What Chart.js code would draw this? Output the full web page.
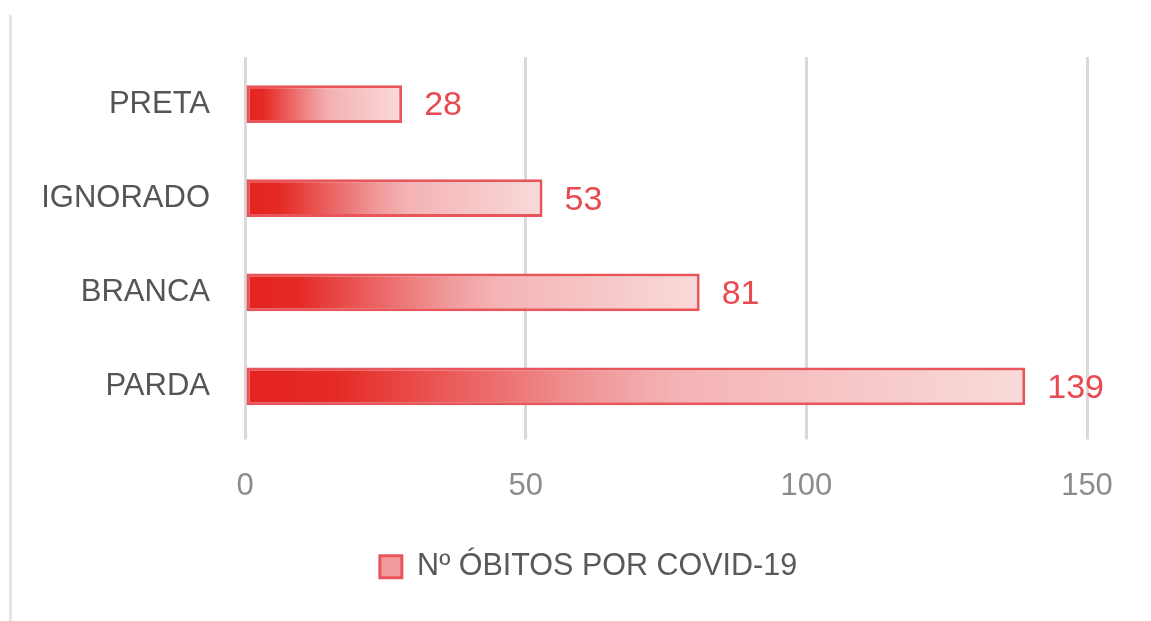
<!DOCTYPE html>
<html>
<head>
<meta charset="utf-8">
<script src="https://cdn.jsdelivr.net/npm/chart.js@4/dist/chart.umd.min.js"></script>
<style>
  html, body { margin: 0; padding: 0; background: #fff; }
  #wrap { position: relative; width: 1151px; height: 621px; }
  #frame { position: absolute; left: 9px; top: 15px; width: 3px; height: 606px; background: #e6e6e6; }
</style>
</head>
<body>
<div id="wrap">
  <div id="frame"></div>
  <canvas id="chart" width="1151" height="621"></canvas>
</div>
<script>
var categories = ["PRETA", "IGNORADO", "BRANCA", "PARDA"];
var obitos = [28, 53, 81, 139];
var seriesName = "Nº ÓBITOS POR COVID-19";
var xTicks = [0, 50, 100, 150];

var font = "'Liberation Sans', Arial, sans-serif";
var red = "#e8565b";

function barGradient(context) {
  var chart = context.chart;
  var x = chart.scales.x;
  if (!x || !chart.chartArea || context.dataIndex === undefined) return "#f09a9b";
  var x0 = x.getPixelForValue(0);
  var x1 = x.getPixelForValue(obitos[context.dataIndex]);
  var g = chart.ctx.createLinearGradient(x0, 0, x1, 0);
  g.addColorStop(0, "#e4231f");
  g.addColorStop(0.12, "#e52b27");
  g.addColorStop(0.45, "#f09a9b");
  g.addColorStop(0.55, "#f4b3b4");
  g.addColorStop(1, "#f9dada");
  return g;
}

// value labels at the end of each bar
var valueLabels = {
  id: "valueLabels",
  afterDatasetsDraw: function (chart) {
    var ctx = chart.ctx;
    var meta = chart.getDatasetMeta(0);
    ctx.save();
    ctx.font = "34px " + font;
    ctx.fillStyle = "#e84a4f";
    ctx.textAlign = "left";
    ctx.textBaseline = "middle";
    meta.data.forEach(function (bar, i) {
      ctx.fillText(String(obitos[i]), bar.x + 22, bar.y + 2);
    });
    ctx.restore();
  }
};

// legend in the reference sits a bit right of the plot centre
var legendShift = {
  id: "legendShift",
  afterLayout: function (chart) {
    chart.legend.left += 35;
    chart.legend.right += 35;
  }
};

var ctx = document.getElementById("chart").getContext("2d");
var chart = new Chart(ctx, {
  type: "bar",
  data: {
    labels: categories,
    datasets: [
      {
        label: seriesName,
        data: obitos,
        backgroundColor: barGradient,
        borderColor: red,
        borderWidth: 3,
        borderSkipped: false,
        barPercentage: 0.4,
        categoryPercentage: 1
      }
    ]
  },
  options: {
    indexAxis: "y",
    responsive: false,
    animation: false,
    layout: { padding: { left: 20, right: 64, top: 57, bottom: 29 } },
    scales: {
      x: {
        min: 0,
        max: 150,
        afterBuildTicks: function (scale) {
          scale.ticks = xTicks.map(function (v) { return { value: v }; });
        },
        afterFit: function (scale) { scale.height = 108; },
        grid: { color: "#d9d9d9", lineWidth: 3, tickLength: 6, drawTicks: true },
        border: { display: false },
        ticks: { color: "#8c8c8c", font: { family: font, size: 31 }, padding: 28 }
      },
      y: {
        afterFit: function (scale) { scale.width = 225; },
        grid: { display: false, drawTicks: false },
        border: { display: false },
        ticks: { color: "#555555", font: { family: font, size: 31 }, padding: 35 }
      }
    },
    plugins: {
      tooltip: { enabled: false },
      legend: {
        position: "bottom",
        labels: {
          color: "#595959",
          font: { family: font, size: 30.5 },
          boxWidth: 22,
          boxHeight: 22,
          padding: 10,
          generateLabels: function (chart) {
            return [{
              text: seriesName,
              fillStyle: "#f19b9d",
              strokeStyle: red,
              lineWidth: 3,
              fontColor: "#595959",
              datasetIndex: 0
            }];
          }
        }
      }
    }
  },
  plugins: [valueLabels, legendShift]
});
</script>
</body>
</html>
